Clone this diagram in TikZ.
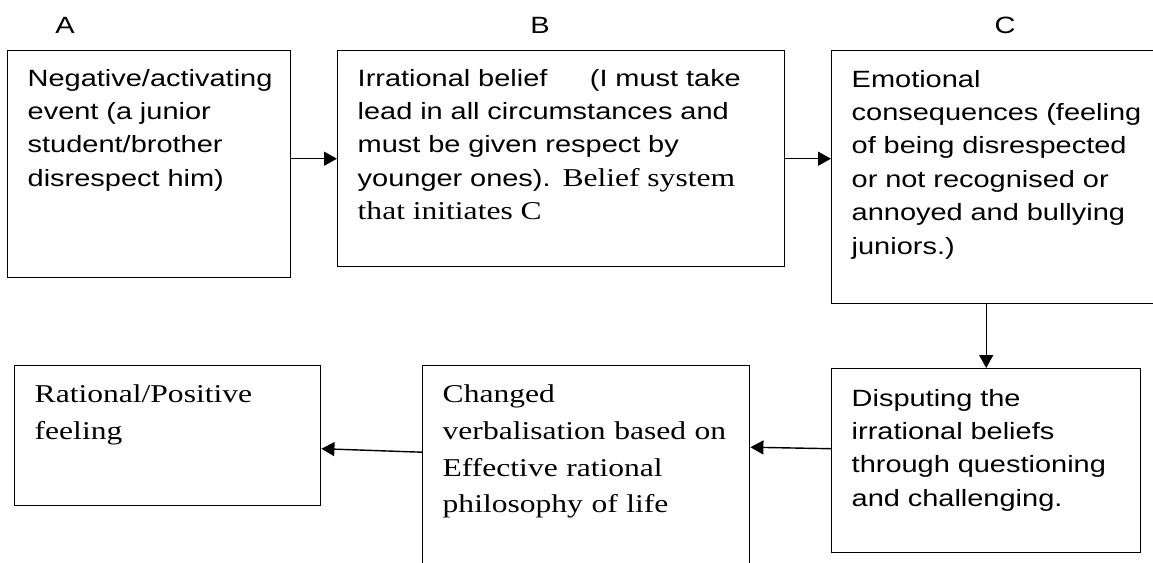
\documentclass[tikz,border=0pt]{standalone}
\usepackage{fontspec}
\setmainfont[FakeStretch=1.23]{Liberation Serif}
\setsansfont[FakeStretch=1.23]{Liberation Sans}
\usetikzlibrary{arrows.meta}

\newcommand{\sanstext}{\sffamily\fontsize{13.4}{19}\selectfont}
\newcommand{\seriftext}{\rmfamily\fontsize{14.6}{21}\selectfont}

\begin{document}
\begin{tikzpicture}[x=0.2mm,y=-0.2mm]
\useasboundingbox (0,0) rectangle (1153,562);
\clip (0,0) rectangle (1153,562);
				% column letters
				\begin{scope}[every node/.style = {font = \sanstext}]
					\node (la) at (65,25) {A};
					\node (lb) at (540,25) {B};
					\node (lc) at (1005,25) {C};
				\end{scope}
				\begin{scope}[every node/.style = {draw, line width=0.8pt, anchor=north west,
						align=left, inner xsep=4mm, inner ysep=0pt, text height=7.1mm}]
					\node[text width=48.6mm, text depth=38.3mm, font=\sanstext] (evt) at (7,50)
						{Negative/activating\\ event (a junior\\ student/brother\\ disrespect him)};
					\node[text width=81.4mm, text depth=36.1mm, font=\sanstext] (blf) at (337,50)
						{Irrational~belief\hspace{8.5mm}(I~must~take\\ lead in all circumstances and\\
						must be given respect by\\ younger ones). {\seriftext Belief system}\\
						{\seriftext that initiates C}};
					\node[text width=59.8mm, text height=7.3mm, text depth=43.3mm, font=\sanstext] (csq) at (831,50)
						{Emotional\\ consequences (feeling\\ of being disrespected\\ or not recognised or\\
						annoyed and bullying\\ juniors.)};
					\node[text width=53.8mm, text height=7.5mm, text depth=29.3mm, font=\sanstext] (dsp) at (831,368)
						{Disputing the\\ irrational beliefs\\ through questioning\\ and challenging.};
					\node[text width=57.4mm, text height=7.3mm, text depth=35.7mm, font=\seriftext] (chg) at (422,365)
						{Changed\\ verbalisation~based~on\\ Effective rational\\ philosophy of life};
					\node[text width=53.2mm, text height=7.3mm, text depth=20.7mm, font=\seriftext] (rat) at (14,365)
						{Rational/Positive\\ feeling};
				\end{scope}
				\begin{scope}[>={Triangle[length=2.6mm, width=2.8mm]},
						every edge/.style={draw=black, line width=0.8pt}]
					\path [->] (evt.east |- blf.west) edge (blf.west);
					\path [->] (blf.east) edge (blf.east -| csq.west);
					\path [->] (dsp.north |- csq.south) edge (dsp.north);
					\path [->] ([yshift=2.4mm]dsp.west) edge ([yshift=5.2mm]chg.east);
					\path [->] ([yshift=4.2mm]chg.west) edge ([yshift=-2.6mm]rat.east);
				\end{scope}
			\end{tikzpicture}
\end{document}
